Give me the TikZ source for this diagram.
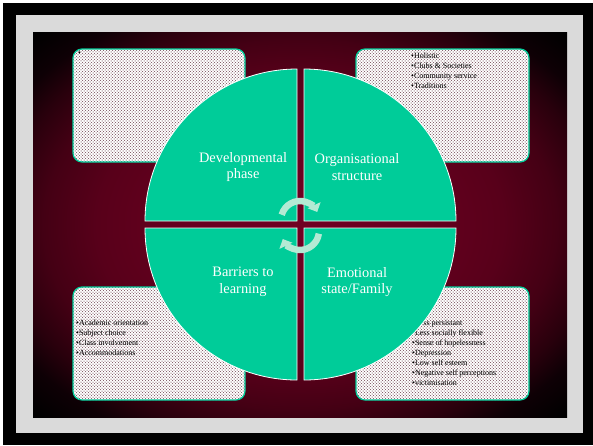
\documentclass[tikz,border=0pt]{standalone}
\usepackage{fontspec}
\setmainfont{Liberation Serif}
\usepackage{tikz}
\usetikzlibrary{arrows.meta}
\usetikzlibrary{patterns}
\definecolor{wheel}{RGB}{0,204,153}
\definecolor{mint}{RGB}{180,234,212}
\definecolor{wine}{RGB}{112,0,34}
\definecolor{wineA}{RGB}{104,0,31}
\definecolor{wineB}{RGB}{88,0,26}
\definecolor{wineC}{RGB}{68,0,20}
\definecolor{wineD}{RGB}{40,0,12}
\definecolor{wineE}{RGB}{14,0,5}
\definecolor{mount}{RGB}{218,218,218}
\definecolor{speck}{RGB}{110,66,80}
\pgfdeclareradialshading{glow}{\pgfpoint{0bp}{0bp}}{color(0bp)=(wine);
  color(10bp)=(wineA); color(19bp)=(wineB); color(24bp)=(wineC);
  color(28bp)=(wineD); color(31bp)=(wineE); color(35bp)=(black);
  color(50bp)=(black)}

\begin{document}
\begin{tikzpicture}[x=1pt,y=-1pt]
   \tikzstyle{card} = [fill=white,rounded corners=9pt,
     postaction={pattern=crosshatch dots,pattern color=speck},
     postaction={pattern=dots,pattern color=speck!60!white},
     postaction={draw=wheel,line width=1.2pt}]
   \tikzstyle{quad} = [fill=wheel,draw=white,line width=.8pt]
   \tikzstyle{lbl} = [text=white,align=center,
     font=\fontsize{14.4}{16.5}\selectfont]
   \tikzstyle{list} = [anchor=north west,align=left,inner sep=0pt,
     font=\fontsize{8}{10}\selectfont]
   \tikzstyle{turn} = [draw=mint,line width=6.5pt,
     -{Triangle[length=7.5pt,width=14pt]}]
   \useasboundingbox (0,0) rectangle (593,445);
    %% slide frame
    \fill[white] (0,0) rectangle (593,445);
    \fill[black] (3,3) rectangle (593,445);
    \fill[mount] (16,15) rectangle (583,433);
    \shade[shading=glow] (33,32) rectangle (567,417);
    %%
    \path[card] (73,49) rectangle (245,162);
    \path[card] (356,49) rectangle (529,162);
    \path[card] (73,287) rectangle (245,400);
    \path[card] (356,287) rectangle (529,400);
    \node[list] (phase) at (78,52) {\textbullet};
    \node[list] (structure) at (411,53) {\textbullet Holistic\\
      \textbullet Clubs \& Societies\\ \textbullet Community service\\
      \textbullet Traditions};
    \node[list] (barriers) at (76,320) {\textbullet Academic orientation\\
      \textbullet Subject choice\\ \textbullet Class involvement\\
      \textbullet Accommodations};
    \node[list] (emotion) at (412,320) {\textbullet Less persistant\\
      \textbullet Less socially flexible\\ \textbullet Sense of hopelessness\\
      \textbullet Depression\\ \textbullet Low self esteem\\
      \textbullet Negative self perceptions\\ \textbullet victimisation};
    %% the four quarters of the wheel
    \path[quad] (297,221) -- ++(-152,0) arc (180:270:152) -- cycle;
    \path[quad] (304,221) -- ++(0,-152) arc (270:360:152) -- cycle;
    \path[quad] (304,228) -- ++(152,0) arc (0:90:152) -- cycle;
    \path[quad] (297,228) -- ++(0,152) arc (90:180:152) -- cycle;
    \node[lbl] (dev) at (243,167) {Developmental\\phase};
    \node[lbl] (org) at (357,167) {Organisational\\structure};
    \node[lbl] (bar) at (243,282) {Barriers to\\learning};
    \node[lbl] (emo) at (357,282) {Emotional\\state/Family};
    %% cycle arrows
    \draw[turn] (300,220) ++(196:19) arc (196:335:19);
    \draw[turn] (300,231) ++(8:19) arc (8:155:19);
\end{tikzpicture}
\end{document}
